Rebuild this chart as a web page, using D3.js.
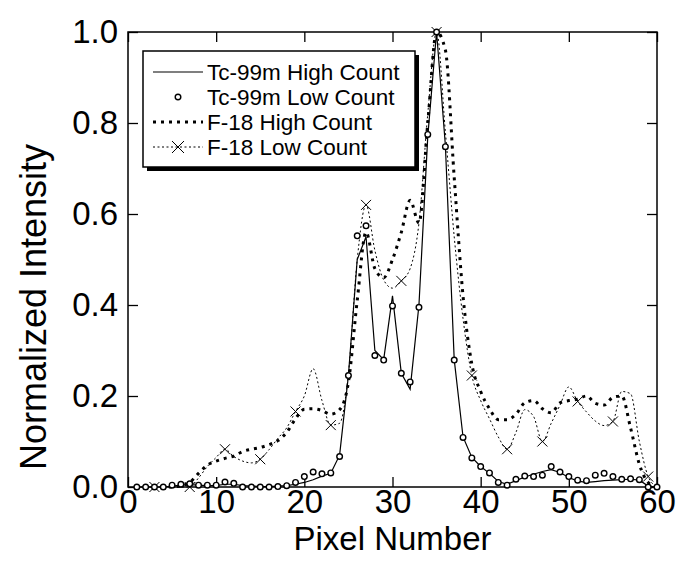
<!DOCTYPE html>
<html>
<head>
<meta charset="utf-8">
<script src="https://cdn.jsdelivr.net/npm/d3@7"></script>
<style>
  body { margin: 0; background: #fff; }
  svg { display: block; }
  text { font-family: "Liberation Sans", Arial, sans-serif; fill: #000; }
</style>
</head>
<body>
<svg id="chart" width="688" height="561"></svg>
<script>
// Detector pixel index along the profile
const pixels = d3.range(1, 61);

// Normalized line-profile intensities, one value per pixel (1..60)
const tcHigh = [
  0, 0, 0, 0, 0.002, 0.004, 0.005, 0.004, 0.003, 0.003,
  0.006, 0.006, 0.003, 0.002, 0.001, 0.001, 0.002, 0.003, 0.006, 0.01,
  0.016, 0.024, 0.03, 0.07, 0.245, 0.5, 0.55, 0.3, 0.28, 0.42,
  0.25, 0.215, 0.4, 0.77, 1.0, 0.75, 0.28, 0.11, 0.065, 0.045,
  0.03, 0.012, 0.006, 0.014, 0.022, 0.028, 0.034, 0.038, 0.032, 0.021,
  0.013, 0.01, 0.012, 0.014, 0.015, 0.016, 0.017, 0.015, 0.002, 0
];
const tcLow = [
  0, 0, 0, 0, 0.004, 0.006, 0.007, 0.004, 0.004, 0.004,
  0.011, 0.008, 0, 0, 0, 0, 0.001, 0.003, 0.01, 0.023,
  0.033, 0.029, 0.031, 0.067, 0.245, 0.552, 0.574, 0.289, 0.279, 0.398,
  0.25, 0.231, 0.395, 0.775, 1.0, 0.748, 0.279, 0.109, 0.064, 0.045,
  0.031, 0.01, 0.004, 0.017, 0.024, 0.023, 0.026, 0.045, 0.033, 0.023,
  0.015, 0.014, 0.026, 0.03, 0.023, 0.017, 0.018, 0.016, 0, 0
];
const f18High = [
  0, 0, 0, 0, 0, 0.003, 0.01, 0.03, 0.048, 0.057,
  0.063, 0.068, 0.078, 0.083, 0.087, 0.093, 0.102, 0.12, 0.15, 0.171,
  0.172, 0.168, 0.16, 0.17, 0.23, 0.41, 0.56, 0.48, 0.46, 0.5,
  0.56, 0.63, 0.58, 0.8, 1.0, 0.96, 0.68, 0.42, 0.27, 0.21,
  0.172, 0.148, 0.148, 0.16, 0.185, 0.19, 0.172, 0.163, 0.185, 0.19,
  0.193, 0.2, 0.184, 0.18, 0.197, 0.2, 0.13, 0.05, 0.01, 0
];
const f18Low = [
  0, 0, 0, 0, 0, 0, 0, 0.02, 0.045, 0.065,
  0.083, 0.067, 0.057, 0.053, 0.061, 0.082, 0.107, 0.13, 0.166, 0.2,
  0.26, 0.19, 0.136, 0.14, 0.25, 0.5, 0.62, 0.52, 0.455, 0.437,
  0.453, 0.48, 0.58, 0.82, 1.0, 0.78, 0.55, 0.37, 0.245, 0.19,
  0.15, 0.11, 0.083, 0.12, 0.17, 0.155, 0.1, 0.14, 0.18, 0.22,
  0.188, 0.165, 0.145, 0.135, 0.144, 0.21, 0.205, 0.1, 0.023, 0
];

const xTicks = [0, 10, 20, 30, 40, 50, 60];
const yTicks = [0, 0.2, 0.4, 0.6, 0.8, 1.0];
const seriesNames = ["Tc-99m High Count", "Tc-99m Low Count", "F-18 High Count", "F-18 Low Count"];
const xTitle = "Pixel Number";
const yTitle = "Normalized Intensity";

const svg = d3.select("#chart");
const plotL = 128, plotR = 657, plotT = 32, plotB = 487;

const x = d3.scaleLinear().domain([0, 60]).range([plotL, plotR]);
const y = d3.scaleLinear().domain([0, 1]).range([plotB, plotT]);

const pts = arr => pixels.map((p, i) => ({ x: p, v: arr[i] }));

// Frame
svg.append("rect")
  .attr("x", plotL).attr("y", plotT)
  .attr("width", plotR - plotL).attr("height", plotB - plotT)
  .attr("fill", "none").attr("stroke", "#000").attr("stroke-width", 1.5);

// Inward ticks on all four sides
const tickLen = 10;
const axB = d3.axisBottom(x).tickValues(xTicks).tickSizeInner(-tickLen).tickSizeOuter(0).tickPadding(2.5).tickFormat(d3.format("d"));
const axT = d3.axisTop(x).tickValues(xTicks).tickSizeInner(-tickLen).tickSizeOuter(0).tickFormat("");
const axL = d3.axisLeft(y).tickValues(yTicks).tickSizeInner(-tickLen).tickSizeOuter(0).tickPadding(10).tickFormat(d3.format(".1f"));
const axR = d3.axisRight(y).tickValues(yTicks).tickSizeInner(-tickLen).tickSizeOuter(0).tickFormat("");

function styleAxis(g) {
  g.select(".domain").remove();
  g.selectAll(".tick line").attr("stroke", "#000").attr("stroke-width", 1.3);
  g.selectAll(".tick text").attr("font-size", 33).attr("fill", "#000")
    .attr("font-family", "'Liberation Sans', Arial, sans-serif");
}
svg.append("g").attr("transform", `translate(0,${plotB})`).call(axB).call(styleAxis);
svg.append("g").attr("transform", `translate(0,${plotT})`).call(axT).call(styleAxis);
svg.append("g").attr("transform", `translate(${plotL},0)`).call(axL).call(styleAxis);
svg.append("g").attr("transform", `translate(${plotR},0)`).call(axR).call(styleAxis);

// Axis titles
svg.append("text")
  .attr("x", (plotL + plotR) / 2).attr("y", 550)
  .attr("text-anchor", "middle").attr("font-size", 33)
  .text(xTitle);
svg.append("text")
  .attr("transform", `translate(46,307) rotate(-90)`)
  .attr("text-anchor", "middle").attr("font-size", 36)
  .text(yTitle);

// Series
const linear = d3.line().x(d => x(d.x)).y(d => y(d.v));
const smooth = d3.line().x(d => x(d.x)).y(d => y(d.v)).curve(d3.curveMonotoneX);

const plot = svg.append("g");

plot.append("path").datum(pts(f18Low))
  .attr("d", smooth).attr("fill", "none")
  .attr("stroke", "#000").attr("stroke-width", 1).attr("stroke-dasharray", "2,2.5");

plot.append("path").datum(pts(f18High))
  .attr("d", smooth).attr("fill", "none")
  .attr("stroke", "#000").attr("stroke-width", 3).attr("stroke-dasharray", "3,5");

plot.append("path").datum(pts(tcHigh))
  .attr("d", linear).attr("fill", "none")
  .attr("stroke", "#000").attr("stroke-width", 1.2);

const xMark = s => `M${-s},${-s}L${s},${s}M${-s},${s}L${s},${-s}`;

plot.selectAll(".xm").data(pts(f18Low).filter(d => (d.x - 3) % 4 === 0))
  .join("path").attr("class", "xm")
  .attr("transform", d => `translate(${x(d.x)},${y(d.v)})`)
  .attr("d", xMark(5)).attr("fill", "none").attr("stroke", "#000").attr("stroke-width", 1);

plot.selectAll(".cm").data(pts(tcLow))
  .join("circle").attr("class", "cm")
  .attr("cx", d => x(d.x)).attr("cy", d => y(d.v)).attr("r", 2.8)
  .attr("fill", "#fff").attr("stroke", "#000").attr("stroke-width", 1.4);

// Legend
const lg = svg.append("g");
const lx = 143, ly = 51, lw = 272, lh = 116;
lg.append("rect").attr("x", lx + 4).attr("y", ly + 4).attr("width", lw).attr("height", lh).attr("fill", "#000");
lg.append("rect").attr("x", lx).attr("y", ly).attr("width", lw).attr("height", lh)
  .attr("fill", "#fff").attr("stroke", "#000").attr("stroke-width", 1.5);

const rowY = i => 72 + i * 25;
const s0 = 153, s1 = 203, sm = 178;
// row 0: solid line
lg.append("line").attr("x1", s0).attr("x2", s1).attr("y1", rowY(0)).attr("y2", rowY(0))
  .attr("stroke", "#000").attr("stroke-width", 1.2);
// row 1: circle marker
lg.append("circle").attr("cx", sm).attr("cy", rowY(1)).attr("r", 2.8)
  .attr("fill", "#fff").attr("stroke", "#000").attr("stroke-width", 1.4);
// row 2: thick dotted
lg.append("line").attr("x1", s0).attr("x2", s1).attr("y1", rowY(2)).attr("y2", rowY(2))
  .attr("stroke", "#000").attr("stroke-width", 3).attr("stroke-dasharray", "3,5");
// row 3: thin dotted with cross
lg.append("line").attr("x1", s0).attr("x2", s1).attr("y1", rowY(3)).attr("y2", rowY(3))
  .attr("stroke", "#000").attr("stroke-width", 1).attr("stroke-dasharray", "2,2.5");
lg.append("path").attr("transform", `translate(${sm},${rowY(3)})`)
  .attr("d", xMark(6)).attr("fill", "none").attr("stroke", "#000").attr("stroke-width", 1);

lg.selectAll(".lt").data(seriesNames).join("text").attr("class", "lt")
  .attr("x", 207).attr("y", (d, i) => rowY(i) + 8)
  .attr("font-size", 22.5)
  .text(d => d);
</script>
</body>
</html>
